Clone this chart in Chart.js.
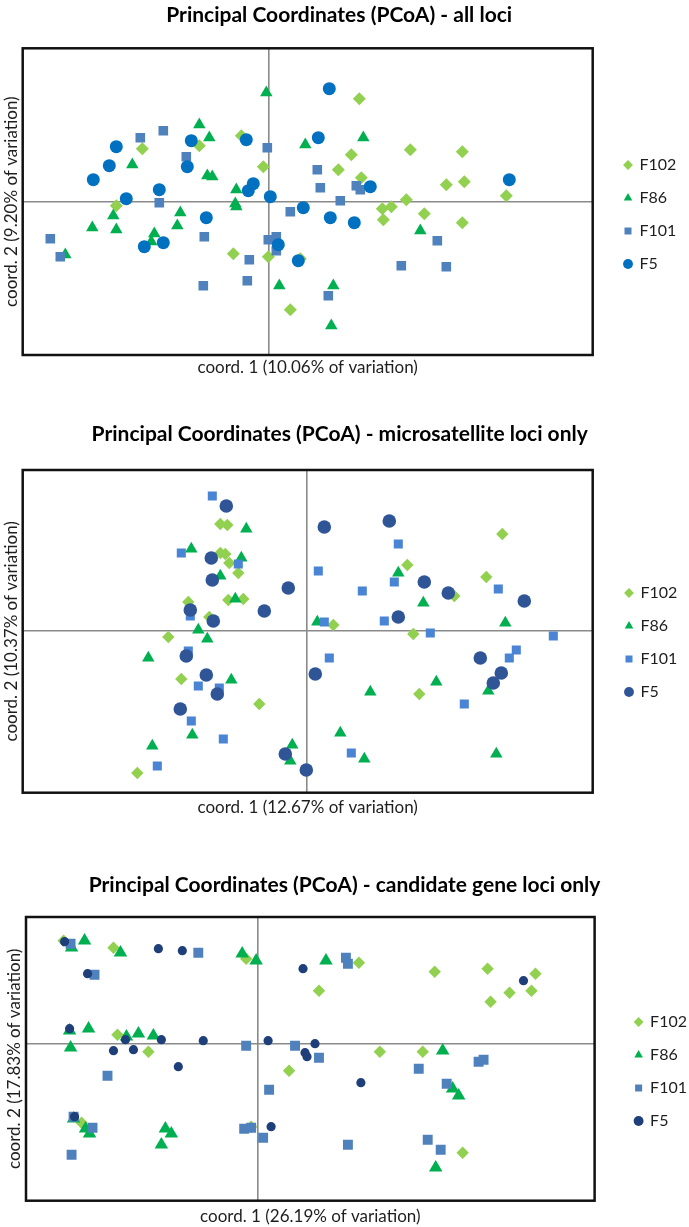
<!DOCTYPE html>
<html>
<head>
<meta charset="utf-8">
<script src="https://cdn.jsdelivr.net/npm/chart.js@4.4.1/dist/chart.umd.min.js"></script>
<style>
  body { margin: 0; background: #fff; width: 689px; height: 1227px; position: relative; overflow: hidden; }
  .panel { position: absolute; left: 0; width: 689px; }
</style>
</head>
<body>
<div class="panel" style="top:0;height:385px"><canvas id="allLoci" width="689" height="385"></canvas></div>
<div class="panel" style="top:415px;height:410px"><canvas id="microLoci" width="689" height="410"></canvas></div>
<div class="panel" style="top:860px;height:367px"><canvas id="candLoci" width="689" height="367"></canvas></div>
<script>
const groups = ['F102', 'F86', 'F101', 'F5'];
const markers = ['rectRot', 'triangle', 'rect', 'circle'];

// --- all loci ---
const allF102 = [[-1.26,0.53],[-0.69,0.56],[-0.27,0.66],[-0.05,0.35],[-1.52,-0.04],[-0.35,-0.52],[0.00,-0.55],[0.22,-1.08],[0.91,1.03],[0.83,0.47],[0.70,0.32],[0.93,0.24],[1.42,0.52],[1.94,0.50],[1.78,0.17],[1.96,0.20],[2.38,0.06],[1.38,0.02],[1.14,-0.07],[1.23,-0.05],[1.15,-0.18],[1.56,-0.12],[1.94,-0.21],[0.32,-0.57]];
const allF86 = [[-0.02,1.09],[-0.69,0.77],[-0.59,0.64],[-1.36,0.37],[-0.61,0.26],[-0.56,0.25],[-0.32,0.12],[-0.33,-0.02],[-0.32,-0.05],[-0.88,-0.11],[-1.55,-0.14],[-1.76,-0.26],[-1.52,-0.28],[-0.91,-0.24],[-1.14,-0.32],[-1.17,-0.40],[-2.03,-0.53],[0.11,-0.84],[0.37,0.57],[0.95,0.64],[1.52,-0.29],[0.65,-0.84],[0.63,-1.24]];
const allF101 = [[-1.28,0.64],[-1.05,0.71],[-0.82,0.45],[-1.09,-0.01],[-0.01,0.54],[-2.18,-0.37],[-2.08,-0.55],[-0.64,-0.35],[-0.65,-0.84],[-0.19,-0.58],[-0.21,-0.79],[0.00,-0.38],[0.08,-0.35],[0.08,-0.49],[0.22,-0.10],[0.49,0.32],[0.52,0.14],[0.72,0.01],[0.88,0.16],[0.92,0.12],[0.60,-0.94],[1.33,-0.64],[1.69,-0.39],[1.78,-0.65]];
const allF5 = [[-1.52,0.55],[-1.59,0.36],[-1.75,0.22],[-1.42,0.03],[-0.77,0.61],[-0.81,0.35],[-1.09,0.12],[-0.22,0.62],[-0.15,0.18],[-0.20,0.11],[0.02,0.05],[-0.62,-0.16],[-1.24,-0.45],[-1.05,-0.41],[0.10,-0.43],[0.30,-0.59],[0.61,1.13],[0.50,0.64],[0.35,-0.06],[0.62,-0.16],[0.86,-0.21],[1.02,0.15],[2.41,0.22]];
const allRangeX = [-2.456, 3.244];
const allRangeY = [-1.533, 1.534];

// --- microsatellite loci only ---
const microF102 = [[-0.87,1.07],[-0.80,1.06],[-0.87,0.78],[-0.82,0.77],[-0.78,0.68],[-0.69,0.58],[-1.19,0.29],[-0.79,0.31],[-0.64,0.32],[-0.98,0.14],[-1.39,-0.06],[-1.26,-0.48],[-0.48,-0.73],[-1.70,-1.42],[1.95,0.97],[1.00,0.66],[1.79,0.54],[1.47,0.35],[0.26,0.06],[1.06,-0.03],[1.12,-0.63]];
const microF86 = [[-0.61,1.02],[-1.16,0.82],[-0.66,0.73],[-0.87,0.55],[-0.72,0.32],[-1.09,0.01],[-1.00,-0.08],[-1.59,-0.27],[-0.76,-0.49],[-1.15,-1.04],[-1.55,-1.15],[-0.15,-1.14],[-0.17,-1.30],[0.91,0.58],[1.16,0.28],[0.10,0.09],[1.98,0.08],[1.29,-0.51],[0.63,-0.61],[1.81,-0.60],[0.33,-1.02],[0.57,-1.28],[1.89,-1.23]];
const microF101 = [[-0.95,1.35],[-1.26,0.78],[-0.69,0.67],[-1.17,0.15],[-1.19,-0.20],[-1.09,-0.55],[-0.88,-0.57],[-1.16,-0.90],[-0.84,-1.08],[-1.50,-1.35],[0.91,0.87],[0.11,0.60],[0.55,0.40],[0.87,0.49],[1.91,0.42],[0.17,0.09],[0.77,0.10],[1.23,-0.02],[2.46,-0.05],[0.22,-0.27],[2.09,-0.19],[2.02,-0.27],[1.57,-0.73],[0.44,-1.22]];
const microF5 = [[-0.81,1.25],[-0.96,0.73],[-0.95,0.51],[-0.19,0.43],[-1.17,0.21],[-0.43,0.20],[-0.94,0.10],[-1.21,-0.25],[-1.01,-0.44],[-0.90,-0.63],[-1.27,-0.78],[-0.22,-1.23],[-0.01,-1.39],[0.17,1.04],[0.82,1.10],[1.17,0.49],[1.41,0.38],[2.17,0.30],[0.91,0.14],[0.08,-0.43],[1.73,-0.27],[1.94,-0.42],[1.86,-0.52]];
const microRangeX = [-2.846, 2.854];
const microRangeY = [-1.617, 1.61];

// --- candidate gene loci only ---
const candF102 = [[-1.95,1.03],[-1.45,0.96],[-0.12,0.85],[-1.41,0.09],[-1.10,-0.08],[-1.77,-0.79],[-0.07,-0.83],[0.31,-0.27],[1.01,0.81],[0.61,0.53],[1.77,0.72],[2.30,0.75],[2.78,0.70],[2.52,0.51],[2.74,0.53],[2.33,0.42],[1.22,-0.08],[1.65,-0.08],[2.05,-1.09]];
const candF86 = [[-1.74,1.03],[-1.87,0.96],[-1.38,0.91],[-0.16,0.90],[-0.02,0.83],[-1.89,0.13],[-1.70,0.15],[-1.32,0.07],[-1.20,0.10],[-1.05,0.08],[-1.88,-0.04],[-1.85,-0.75],[-1.73,-0.85],[-1.69,-0.90],[-0.93,-0.85],[-0.87,-0.90],[-0.97,-1.01],[0.68,0.83],[1.85,-0.07],[1.95,-0.45],[2.01,-0.52],[1.78,-1.24]];
const candF101 = [[-1.88,1.00],[-1.64,0.69],[-0.60,0.91],[-0.12,-0.02],[0.37,-0.02],[-1.51,-0.32],[0.11,-0.46],[-1.85,-0.73],[-1.66,-0.84],[-0.14,-0.85],[-0.07,-0.84],[0.05,-0.94],[-1.87,-1.11],[0.88,0.86],[0.90,0.80],[0.61,-0.14],[1.61,-0.25],[2.21,-0.18],[2.26,-0.16],[1.89,-0.40],[0.90,-1.01],[1.70,-0.96],[1.83,-1.06]];
const candF5 = [[-1.94,1.02],[-1.71,0.70],[-1.00,0.95],[-0.76,0.93],[0.45,0.75],[-1.89,0.15],[-1.33,0.04],[-0.97,0.04],[-0.55,0.03],[0.10,0.03],[-1.45,-0.07],[-1.25,-0.06],[-0.80,-0.23],[0.47,-0.09],[0.49,-0.13],[-1.84,-0.73],[0.13,-0.83],[0.57,0.00],[1.03,-0.39],[2.66,0.63]];
const candRangeX = [-2.327, 3.373];
const candRangeY = [-1.57, 1.267];

const FONT = "Lato, 'Open Sans', sans-serif";
const LEGEND_SIZE = 16;
const LEGEND_PAD = 17;

// width the legend needs: padding + box + half font + longest label
const measure = document.createElement('canvas').getContext('2d');
measure.font = LEGEND_SIZE + 'px ' + FONT;
const labelWidth = Math.max(...groups.map(g => measure.measureText(g).width));
const legendWidth = LEGEND_PAD + 7 + LEGEND_SIZE / 2 + labelWidth + 2;

const frame = {
  id: 'frame',
  beforeDatasetsDraw(chart) {
    const a = chart.chartArea;
    const ctx = chart.ctx;
    ctx.save();
    ctx.strokeStyle = '#111';
    ctx.lineWidth = 2.5;
    ctx.strokeRect(a.left, a.top, a.right - a.left, a.bottom - a.top);
    ctx.restore();
  }
};

function makeChart(id, p) {
  const datasets = groups.map((name, i) => ({
    label: name,
    data: p.series[i].map(d => ({ x: d[0], y: d[1] })),
    pointStyle: markers[i],
    pointRadius: p.radius[i],
    pointHoverRadius: p.radius[i],
    pointBackgroundColor: p.colors[i],
    backgroundColor: p.colors[i],
    pointBorderWidth: 0,
    borderWidth: 0,
    order: 4 - i
  }));

  const padRight = Math.max(0, 689 - p.legendLeft - legendWidth);

  new Chart(document.getElementById(id), {
    type: 'scatter',
    data: { datasets: datasets },
    plugins: [frame],
    options: {
      responsive: false,
      animation: false,
      devicePixelRatio: 1,
      layout: { padding: { left: 0, right: padRight, top: 0, bottom: 0 } },
      scales: {
        x: {
          type: 'linear', position: 'bottom',
          min: p.rangeX[0], max: p.rangeX[1],
          afterBuildTicks: s => { s.ticks = [{ value: 0 }]; },
          afterFit: s => { s.height = p.xHeight; },
          ticks: { display: false },
          grid: { color: '#8a8a8a', lineWidth: 1.6, drawTicks: false },
          border: { display: false },
          title: { display: true, text: p.xTitle, color: '#1e1e1e', font: { family: FONT, size: 17 }, padding: { top: 0, bottom: p.xTitlePad } }
        },
        y: {
          type: 'linear', position: 'left',
          min: p.rangeY[0], max: p.rangeY[1],
          afterBuildTicks: s => { s.ticks = [{ value: 0 }]; },
          afterFit: s => { s.width = p.yWidth; },
          ticks: { display: false },
          grid: { color: '#8a8a8a', lineWidth: 1.6, drawTicks: false },
          border: { display: false },
          title: { display: true, text: p.yTitle, color: '#1e1e1e', font: { family: FONT, size: 17 }, padding: { top: p.yTitlePad, bottom: 0 } }
        },
        gap: {
          type: 'linear', position: 'right', display: true,
          afterFit: s => { s.width = p.legendLeft - p.plotRight; },
          ticks: { display: false },
          grid: { display: false, drawTicks: false },
          border: { display: false }
        }
      },
      plugins: {
        title: {
          display: true, text: p.title, color: '#000',
          font: { family: FONT, size: 21, weight: 'bold' },
          padding: { top: p.titleTop, bottom: p.titleBottom }
        },
        legend: {
          position: 'right', align: 'center', fullSize: false,
          maxWidth: legendWidth,
          title: { display: true, text: '', font: { size: 10 }, padding: { top: p.legendShift - 12, bottom: 0 } },
          labels: {
            usePointStyle: true, boxWidth: 7, boxHeight: 7, padding: LEGEND_PAD,
            color: '#1e1e1e', font: { family: FONT, size: LEGEND_SIZE },
            sort: (a, b) => a.datasetIndex - b.datasetIndex
          }
        },
        tooltip: { enabled: false }
      }
    }
  });
}

makeChart('allLoci', {
  title: 'Principal Coordinates (PCoA) - all loci',
  xTitle: 'coord. 1 (10.06% of variation)',
  yTitle: 'coord. 2 (9.20% of variation)',
  series: [allF102, allF86, allF101, allF5],
  rangeX: allRangeX, rangeY: allRangeY,
  colors: ['#92d050', '#00b050', '#4f81bd', '#0070c0'],
  radius: [6.5, 7.2, 6.8, 6.5],
  titleTop: 2.4, titleBottom: 20.7,
  yWidth: 22.7, yTitlePad: 1.5, xHeight: 30, xTitlePad: 6.8,
  plotRight: 592.7, legendLeft: 607.5, legendShift: 25.7
});

makeChart('microLoci', {
  title: 'Principal Coordinates (PCoA) - microsatellite loci only',
  xTitle: 'coord. 1 (12.67% of variation)',
  yTitle: 'coord. 2 (10.37% of variation)',
  series: [microF102, microF86, microF101, microF5],
  rangeX: microRangeX, rangeY: microRangeY,
  colors: ['#92d050', '#00b050', '#4a84d4', '#2f5597'],
  radius: [6.2, 7.2, 6.4, 6.8],
  titleTop: 6.4, titleBottom: 23.4,
  yWidth: 22.7, yTitlePad: 1.5, xHeight: 32.3, xTitlePad: 6.8,
  plotRight: 592.7, legendLeft: 608.5, legendShift: 22.3
});

makeChart('candLoci', {
  title: 'Principal Coordinates (PCoA) - candidate gene loci only',
  xTitle: 'coord. 1 (26.19% of variation)',
  yTitle: 'coord. 2 (17.83% of variation)',
  series: [candF102, candF86, candF101, candF5],
  rangeX: candRangeX, rangeY: candRangeY,
  colors: ['#92d050', '#00b050', '#4f81bd', '#1f3f7a'],
  radius: [6.2, 7.8, 7, 4.6],
  titleTop: 12.4, titleBottom: 19.4,
  yWidth: 26, yTitlePad: 4.8, xHeight: 26.3, xTitlePad: 0.1,
  plotRight: 596, legendLeft: 619.5, legendShift: 25.3
});
</script>
</body>
</html>
